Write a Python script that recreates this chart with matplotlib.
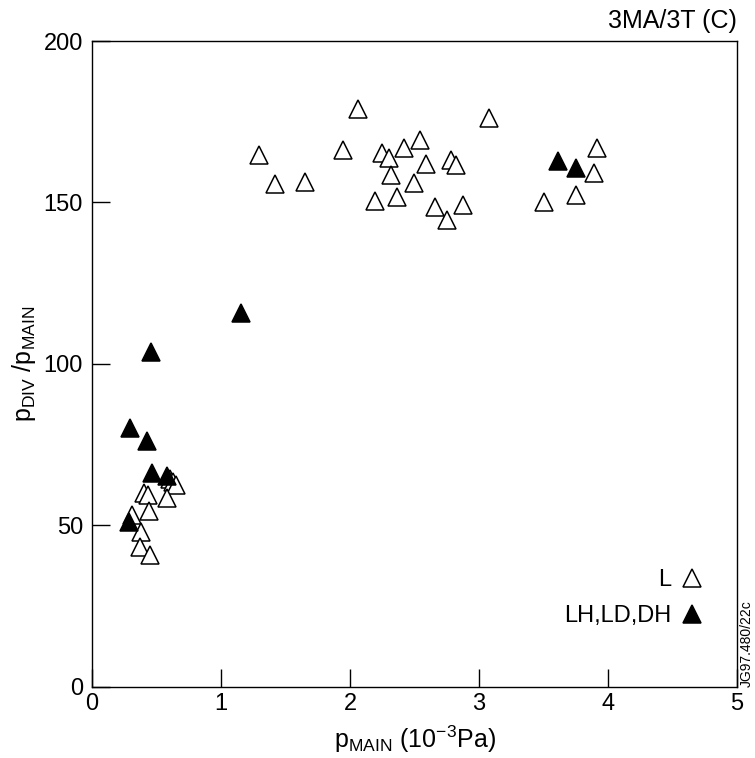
import matplotlib.pyplot as plt

plt.rcParams['font.family'] = ['Liberation Sans', 'DejaVu Sans']
plt.rcParams['mathtext.fontset'] = 'custom'
plt.rcParams['mathtext.rm'] = 'Liberation Sans'

# L mode shots (open triangles)
l_x = [0.605, 0.63, 0.65, 0.403, 0.437, 0.579, 0.442, 0.313, 0.377, 0.372, 0.452,
       1.295, 1.419, 1.651, 2.06, 1.943, 2.194, 2.245, 2.305, 2.421, 2.545, 2.318,
       2.362, 2.498, 2.589, 2.780, 2.824, 2.656, 2.754, 2.876, 3.08, 3.917, 3.889,
       3.75, 3.504]
l_y = [64.5, 63.5, 62.5, 60.0, 59.3, 58.5, 54.5, 53.3, 48.0, 43.3, 40.9,
       164.6, 155.8, 156.2, 179.0, 166.3, 150.5, 165.2, 163.8, 166.9, 169.5, 158.6,
       151.7, 155.9, 161.8, 163.3, 161.6, 148.7, 144.6, 149.2, 176.2, 166.9, 159.2,
       152.2, 150.3]

# LH, LD, DH shots (filled triangles)
h_x = [1.155, 0.457, 0.295, 0.424, 0.463, 0.579, 0.289, 3.61, 3.752]
h_y = [115.8, 103.6, 80.1, 76.1, 66.4, 65.4, 51.1, 162.8, 160.7]

fig = plt.figure(figsize=(7.55, 7.58), dpi=100)
ax = fig.add_axes([0.1219, 0.0937, 0.8543, 0.8522])

ax.plot(l_x, l_y, linestyle='none', marker='^', markersize=13,
        markerfacecolor='white', markeredgecolor='black', markeredgewidth=1.1, label='L')
ax.plot(h_x, h_y, linestyle='none', marker='^', markersize=13,
        markerfacecolor='black', markeredgecolor='black', markeredgewidth=1.1,
        label='LH,LD,DH')

ax.set_xlim(0, 5)
ax.set_ylim(0, 200)
ax.set_xticks([0, 1, 2, 3, 4, 5])
ax.set_yticks([0, 50, 100, 150, 200])
ax.tick_params(direction='in', length=13, width=1, labelsize=17)
ax.tick_params(axis='y', pad=6.5)
ax.tick_params(axis='x', pad=4.5)
for s in ax.spines.values():
    s.set_linewidth(1)

ax.set_xlabel(r'p$_{\mathregular{MAIN}}$ (10$^{\mathregular{-3}}$Pa)', fontsize=18, labelpad=6)
ax.set_ylabel(r'p$_{\mathregular{DIV}}$ /p$_{\mathregular{MAIN}}$', fontsize=18, labelpad=4)

ax.text(1.0, 1.012, '3MA/3T (C)', transform=ax.transAxes, ha='right', va='bottom', fontsize=18)
ax.text(1.005, 0.0, 'JG97.480/22c', transform=ax.transAxes, ha='left', va='bottom',
        rotation=90, fontsize=10)

ax.legend(loc='lower right', bbox_to_anchor=(0.982, 0.06), frameon=False, markerfirst=False,
          fontsize=17, handlelength=1.0, handletextpad=0.4, labelspacing=0.6)

fig.savefig('out.png', dpi=100)
